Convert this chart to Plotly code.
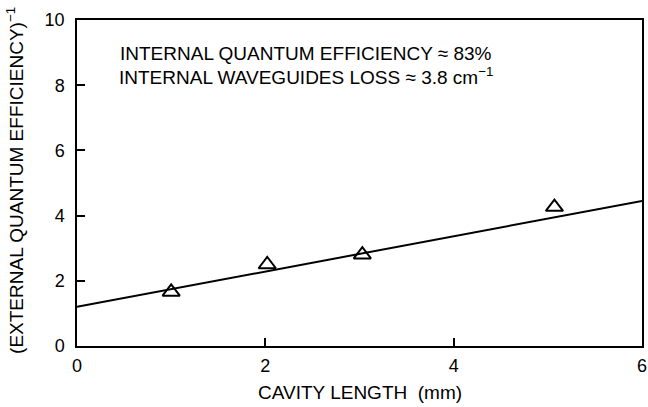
import plotly.graph_objects as go

# Data
cavity_length_mm = [1.0, 2.02, 3.03, 5.07]
inv_ext_qe = [1.66, 2.5, 2.8, 4.26]
fit_x = [0, 6]
fit_y = [1.2, 4.45]
x_ticks = [0, 2, 4, 6]
y_ticks = [0, 2, 4, 6, 8, 10]

font_family = "Liberation Sans, Arial, Helvetica, sans-serif"

fig = go.Figure()
fig.add_trace(go.Scatter(x=fit_x, y=fit_y, mode="lines",
                         line=dict(color="black", width=2), showlegend=False))
fig.add_trace(go.Scatter(x=cavity_length_mm, y=inv_ext_qe, mode="markers",
                         marker=dict(symbol="triangle-up-open", size=15,
                                     color="black", line=dict(width=2, color="black")),
                         showlegend=False))

axis_common = dict(showline=True, linecolor="black", linewidth=1.5, mirror=True,
                   ticks="inside", ticklen=8, tickwidth=1.5, tickcolor="black",
                   showgrid=False, zeroline=False, automargin=False,
                   ticklabeloverflow="allow",
                   tickfont=dict(family=font_family, size=18, color="black"))

txt = dict(family=font_family, size=19, color="black")

fig.update_layout(
    width=648, height=407,
    margin=dict(l=77, r=6, t=20, b=61),
    plot_bgcolor="white", paper_bgcolor="white",
    xaxis=dict(range=[0, 6], tickvals=x_ticks, ticklabelstandoff=3, **axis_common),
    yaxis=dict(range=[0, 10], tickvals=y_ticks, ticklabelstandoff=7, **axis_common),
    annotations=[
        dict(xref="paper", yref="paper", x=0.405, y=0.896, xanchor="center", yanchor="middle",
             showarrow=False, text="INTERNAL QUANTUM EFFICIENCY ≈ 83%", font=txt),
        dict(xref="paper", yref="paper", x=0.405, y=0.828, xanchor="center", yanchor="middle",
             showarrow=False, text="INTERNAL WAVEGUIDES LOSS ≈ 3.8 cm<sup>−1</sup>", font=txt),
        dict(xref="paper", yref="paper", x=0.5, y=-0.144, xanchor="center", yanchor="middle",
             showarrow=False, text="CAVITY LENGTH  (mm)", font=txt),
        dict(xref="paper", yref="paper", x=-0.11, y=0.509, xanchor="center", yanchor="middle",
             showarrow=False, textangle=-90,
             text="(EXTERNAL QUANTUM EFFICIENCY)<sup>−1</sup>",
             font=dict(family=font_family, size=19, color="black")),
    ],
)

fig.write_html("out.html", config={"displayModeBar": False},
               post_script="document.body.style.margin='0';")
